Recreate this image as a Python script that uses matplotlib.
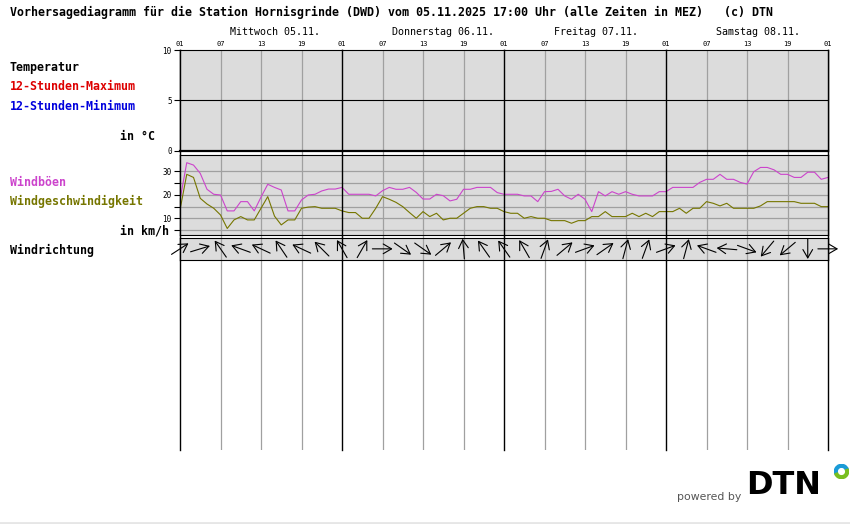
import numpy as np
import matplotlib
matplotlib.use("Agg")
import matplotlib.pyplot as plt
from matplotlib.patches import Wedge

# forecast hours counted from 05.11. 01:00 MEZ
hours = np.arange(0, 97)

# Windböen (km/h), hourly
gusts = [17.8, 33.5, 32.5, 29.0, 22.3, 20.2, 19.9, 13.2, 13.2, 17.1,
         17.1, 13.2, 19.0, 24.4, 23.1, 22.0, 13.2, 13.2, 17.8, 19.9,
         20.2, 21.6, 22.4, 22.4, 23.1, 20.2, 20.2, 20.2, 20.2, 19.5,
         21.7, 23.1, 22.3, 22.3, 23.1, 21.0, 18.2, 18.2, 20.2, 19.6,
         17.4, 18.1, 22.3, 22.3, 23.1, 23.1, 23.1, 20.9, 20.2, 20.2,
         20.2, 19.5, 19.5, 17.1, 21.3, 21.4, 22.3, 19.5, 18.1, 20.2,
         18.1, 12.9, 21.3, 19.5, 21.3, 20.2, 21.3, 20.2, 19.5, 19.5,
         19.5, 21.3, 21.3, 23.1, 23.1, 23.1, 23.1, 25.2, 26.5, 26.5,
         28.6, 26.5, 26.5, 25.2, 24.5, 29.7, 31.5, 31.5, 30.5, 28.6,
         28.6, 27.3, 27.3, 29.5, 29.5, 26.5, 27.3]

# Windgeschwindigkeit (km/h), hourly
speed = [13.6, 28.6, 27.3, 18.5, 16.1, 14.3, 11.5, 5.8, 9.4, 10.8,
         9.4, 9.4, 14.3, 19.2, 11.0, 7.3, 9.4, 9.4, 14.3, 14.8,
         15.0, 14.3, 14.3, 14.3, 13.2, 12.5, 12.5, 10.1, 10.1, 14.3,
         19.2, 18.1, 16.8, 15.0, 12.5, 10.1, 12.9, 10.8, 12.2, 9.4,
         10.1, 10.1, 12.2, 14.3, 15.0, 15.0, 14.3, 14.3, 12.9, 12.2,
         12.2, 10.1, 10.8, 10.1, 10.1, 9.1, 9.1, 9.1, 8.0, 9.1,
         9.1, 10.8, 10.8, 12.9, 10.8, 10.8, 10.8, 12.2, 10.8, 12.2,
         10.8, 12.9, 12.9, 12.9, 14.3, 12.2, 14.3, 14.3, 17.1, 16.4,
         15.3, 16.4, 14.3, 14.3, 14.3, 14.3, 15.3, 17.1, 17.1, 17.1,
         17.1, 17.1, 16.4, 16.4, 16.4, 15.0, 15.0]

# Windrichtung (degrees, wind from), every 3 hours
dir_hours = np.arange(0, 97, 3)
dir_from = [237, 253, 145, 110, 115, 146, 115, 135, 150, 210, 270,
            305, 305, 230, 175, 145, 145, 150, 200, 230, 250, 235,
            195, 200, 250, 195, 110, 95, 290, 40, 50, 360, 270]

hour_labels = ["01", "07", "13", "19"] * 4 + ["01"]
day_labels = ["Mittwoch 05.11.", "Donnerstag 06.11.",
              "Freitag 07.11.", "Samstag 08.11."]

W, H = 850, 524
PANEL = "#dcdcdc"
GRID = "#a0a0a0"
GUST = "#cc44cc"
SPEED = "#767600"

plt.rcParams["font.family"] = "DejaVu Sans Mono"


def box(x0, y0, x1, y1):
    # pixel box -> figure fraction
    return [x0 / W, 1 - y1 / H, (x1 - x0) / W, (y1 - y0) / H]


def time_lines(ax):
    for h in range(0, 97, 6):
        if h % 24 == 0:
            ax.axvline(h, color="black", lw=1.0, zorder=4, clip_on=False)
        else:
            ax.axvline(h, color=GRID, lw=0.9, zorder=1)


fig = plt.figure(figsize=(W / 100, H / 100), dpi=100)

# background column with the time lines running through all panels
ax_bg = fig.add_axes(box(180, 50, 828, 450))
ax_bg.set_xlim(0, 96)
ax_bg.axis("off")
time_lines(ax_bg)

# temperature panel (no values in this forecast)
ax_t = fig.add_axes(box(180, 50, 828, 150.5))
ax_t.set_facecolor(PANEL)
ax_t.set_xlim(0, 96)
ax_t.set_ylim(0, 10)
time_lines(ax_t)
ax_t.axhline(5, color="black", lw=0.8, zorder=2)
ax_t.set_yticks([0, 5, 10])
ax_t.tick_params(axis="y", labelsize=5.5, length=4, width=0.8, pad=2)
ax_t.set_xticks(range(0, 97, 6))
ax_t.set_xticklabels(hour_labels)
ax_t.xaxis.tick_top()
ax_t.tick_params(axis="x", labelsize=5, length=0, pad=2.5)
for s in ["left", "right"]:
    ax_t.spines[s].set_visible(False)
ax_t.spines["top"].set_linewidth(0.8)
ax_t.spines["bottom"].set_linewidth(1.6)
for i, d in enumerate(day_labels):
    ax_t.text(i * 24 + 7.4, 1.18, d, transform=ax_t.get_xaxis_transform(),
              ha="left", va="center", fontsize=7.2)

# wind speed panel
ax_w = fig.add_axes(box(180, 155, 828, 235))
ax_w.set_facecolor(PANEL)
ax_w.set_xlim(0, 96)
ax_w.set_ylim(3.05, 36.74)
time_lines(ax_w)
for v in range(5, 31, 5):
    ax_w.axhline(v, color=GRID, lw=0.9, zorder=1)
ax_w.plot(hours, gusts, color=GUST, lw=0.8, zorder=3)
ax_w.plot(hours, speed, color=SPEED, lw=0.8, zorder=3)
ax_w.set_yticks([10, 20, 30])
ax_w.set_yticks([5, 15, 25], minor=True)
ax_w.tick_params(axis="y", which="both", labelsize=5.5, length=4,
                 width=0.8, pad=2)
ax_w.set_xticks([])
for s in ["left", "right"]:
    ax_w.spines[s].set_visible(False)
for s in ["top", "bottom"]:
    ax_w.spines[s].set_linewidth(0.8)

# wind direction panel, y scaled so one unit equals one hour on screen
ax_d = fig.add_axes(box(180, 237.7, 828, 260))
ax_d.set_facecolor(PANEL)
ax_d.set_xlim(0, 96)
half = (260 - 237.7) / 2 / 6.75
ax_d.set_ylim(-half, half)
time_lines(ax_d)
ax_d.set_xticks([])
ax_d.set_yticks([])
for s in ["left", "right"]:
    ax_d.spines[s].set_visible(False)
for s in ["top", "bottom"]:
    ax_d.spines[s].set_linewidth(0.8)
arrow_half = 1.5
for h, d in zip(dir_hours, dir_from):
    a = np.deg2rad(-90 - d)
    dx, dy = arrow_half * np.cos(a), arrow_half * np.sin(a)
    ax_d.annotate("", xy=(h + dx, dy), xytext=(h - dx, -dy),
                  annotation_clip=False,
                  arrowprops=dict(arrowstyle="->,head_length=0.6,head_width=0.35",
                                  color="black", lw=0.8,
                                  shrinkA=0, shrinkB=0),
                  zorder=5)

# titles and side labels
fig.text(10 / W, 1 - 12.7 / H,
         "Vorhersagediagramm für die Station Hornisgrinde (DWD) vom "
         "05.11.2025 17:00 Uhr (alle Zeiten in MEZ)   (c) DTN",
         fontsize=8.4, fontweight="bold", va="center")
side = [
    ("Temperatur", 10, 67, "left", "black"),
    ("12-Stunden-Maximum", 10, 87, "left", "#dd0000"),
    ("12-Stunden-Minimum", 10, 106.5, "left", "#0000dd"),
    ("in °C", 155, 136.7, "right", "black"),
    ("Windböen", 10, 182.5, "left", GUST),
    ("Windgeschwindigkeit", 10, 201.5, "left", SPEED),
    ("in km/h", 168.5, 231.5, "right", "black"),
    ("Windrichtung", 10, 250, "left", "black"),
]
for txt, x, y, ha, c in side:
    fig.text(x / W, 1 - y / H, txt, ha=ha, va="center", color=c,
             fontsize=8.4, fontweight="bold")

# logo
fig.text(677 / W, 1 - 497 / H, "powered by", fontsize=7.8, color="#555555",
         va="center", family="DejaVu Sans")
fig.text(746 / W, 1 - 486 / H, "DTN", fontsize=23, fontweight="bold",
         va="center", family="DejaVu Sans", color="black")
ax_logo = fig.add_axes(box(834, 464, 849, 479))
ax_logo.set_xlim(-1, 1)
ax_logo.set_ylim(-1, 1)
ax_logo.set_aspect("equal")
ax_logo.axis("off")
ax_logo.add_patch(Wedge((0, 0), 0.95, 20, 200, width=0.38, color="#1a9bd7"))
ax_logo.add_patch(Wedge((0, 0), 0.95, 200, 380, width=0.38, color="#78be20"))
fig.add_artist(plt.Line2D([0, 1], [1 - 522.5 / H] * 2, color="#e6e6e6", lw=2))

fig.savefig("out.png", dpi=100)
